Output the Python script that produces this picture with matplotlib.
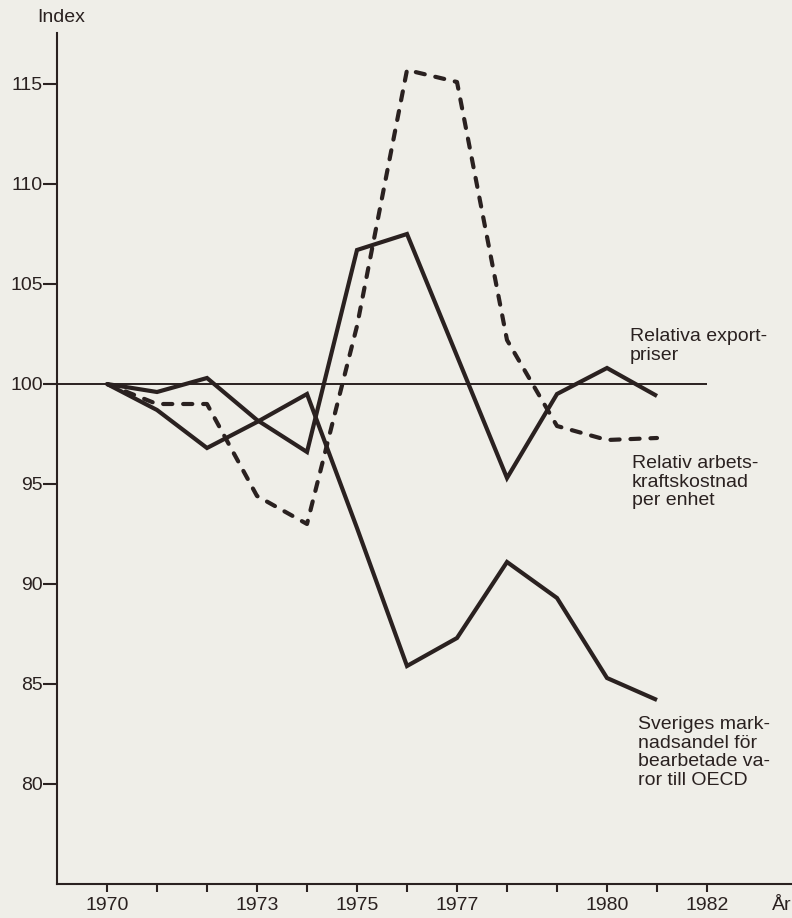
import matplotlib
matplotlib.use("Agg")
import matplotlib.pyplot as plt

# Data
years = [1970, 1971, 1972, 1973, 1974, 1975, 1976, 1977, 1978, 1979, 1980, 1981]
export_prices = [100.0, 99.6, 100.3, 98.2, 96.6, 106.7, 107.5, 101.4, 95.3, 99.5, 100.8, 99.4]
labour_cost = [100.0, 99.0, 99.0, 94.4, 93.0, 102.9, 115.7, 115.1, 102.2, 97.9, 97.2, 97.3]
market_share = [100.0, 98.7, 96.8, 98.1, 99.5, 92.8, 85.9, 87.3, 91.1, 89.3, 85.3, 84.2]

x_ticks = list(range(1970, 1983))
x_labels = {1970: "1970", 1973: "1973", 1975: "1975", 1977: "1977", 1980: "1980", 1982: "1982"}
y_ticks = [80, 85, 90, 95, 100, 105, 110, 115]

label_export = "Relativa export-\npriser"
label_cost = "Relativ arbets-\nkraftskostnad\nper enhet"
label_share = "Sveriges mark-\nnadsandel för\nbearbetade va-\nror till OECD"

bg = "#efeee8"
ink = "#2a2120"

plt.rcParams["font.family"] = ["Liberation Sans", "DejaVu Sans"]

W, H = 792, 918
fig = plt.figure(figsize=(W / 100, H / 100), dpi=100, facecolor=bg)

left_px, bottom_px, top_px = 57, 884, 33
ax = fig.add_axes([left_px / W, 1 - bottom_px / H, (W - left_px) / W, (bottom_px - top_px) / H])
ax.set_facecolor(bg)

ax.set_xlim(1969, 1969 + (W - left_px) / 50)
ax.set_ylim(75, 75 + (bottom_px - top_px) / 20)

# Reference line at index 100
ax.hlines(100, 1969, 1982, color=ink, lw=1.4)

ax.plot(years, export_prices, color=ink, lw=3.0, solid_joinstyle="miter", solid_capstyle="butt")
ax.plot(years, market_share, color=ink, lw=3.0, solid_joinstyle="miter", solid_capstyle="butt")
ax.plot(years, labour_cost, color=ink, lw=3.0, linestyle=(0, (2.2, 2.6)),
        dash_capstyle="round", dash_joinstyle="round")

for s in ["top", "right"]:
    ax.spines[s].set_visible(False)
for s in ["left", "bottom"]:
    ax.spines[s].set_color(ink)
    ax.spines[s].set_linewidth(1.5)

ax.set_yticks(y_ticks)
ax.set_yticklabels([str(v) for v in y_ticks])
ax.set_xticks(x_ticks)
ax.set_xticklabels([x_labels.get(y, "") for y in x_ticks])
ax.tick_params(axis="y", direction="out", length=10, width=1.5, colors=ink, labelsize=14, pad=0)
ax.tick_params(axis="x", direction="out", length=6, width=1.5, colors=ink, labelsize=14, pad=3)

def fig_text(x, y, s, **kw):
    fig.text(x / W, 1 - y / H, s, color=ink, fontsize=14, linespacing=1.12, va="top", ha="left", **kw)

fig_text(37, 9, "Index")
fig_text(630, 328, label_export)
fig_text(632, 455, label_cost)
fig_text(638, 716, label_share)
fig.text(782 / W, 1 - 897 / H, "År", color=ink, fontsize=14, va="top", ha="center")

fig.savefig("out.png", dpi=100, facecolor=bg)
